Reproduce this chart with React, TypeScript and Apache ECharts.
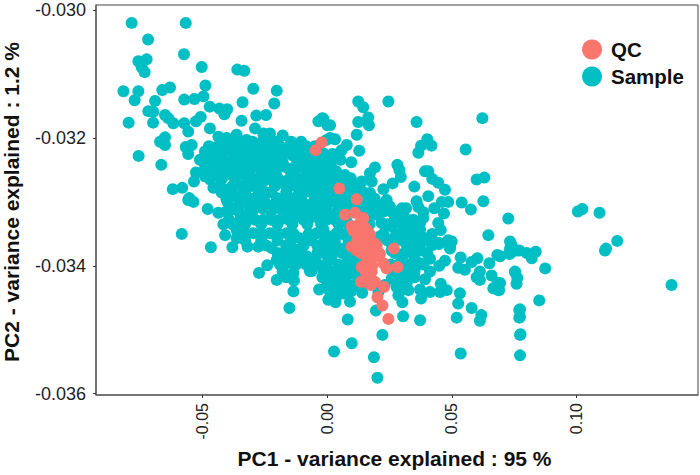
import React, { useEffect, useRef } from "react";
import * as echarts from "echarts";

const seriesNames = ["QC", "Sample"];
const xTicks = [-0.05, 0, 0.05, 0.1];
const yTicks = [-0.03, -0.032, -0.034, -0.036];

const qcPoints: number[][] = [
  [-0.0023,-0.03207],[-0.0047,-0.03219],[0.0048,-0.03279],[0.0118,-0.03296],[0.0071,-0.0332],[0.0111,-0.03317],
  [0.0144,-0.03325],[0.0098,-0.03338],[0.0131,-0.03333],[0.0138,-0.03344],[0.0171,-0.03351],[0.0124,-0.03354],
  [0.0144,-0.03359],[0.0171,-0.03364],[0.0118,-0.03367],[0.0198,-0.03369],[0.0267,-0.03373],[0.0118,-0.03376],
  [0.0158,-0.03368],[0.0191,-0.03373],[0.0211,-0.03381],[0.0164,-0.03383],[0.0171,-0.03394],[0.0138,-0.03402],
  [0.0225,-0.03396],[0.0238,-0.03404],[0.0281,-0.03402],[0.0178,-0.03409],[0.0164,-0.03427],[0.0191,-0.03425],
  [0.0227,-0.03433],[0.0201,-0.03449],[0.0221,-0.03462],[0.0245,-0.03483],
  [0.0098,-0.0337],[0.012,-0.0336],[0.0145,-0.0337],[0.0175,-0.0337],[0.019,-0.03365],[0.0135,-0.0338],
  [0.016,-0.0339],[0.0145,-0.034],[0.0155,-0.0341],[0.018,-0.034],[0.0205,-0.03385],[0.0175,-0.0343],
  [0.0135,-0.03425],[0.0105,-0.03345],[0.0125,-0.0335],[0.015,-0.0334],[0.016,-0.03345],[0.0155,-0.0336],
  [0.0135,-0.0336],
];

const samplePoints: number[][] = [
  [-0.0785,-0.0302],[-0.0568,-0.0302],[-0.0719,-0.03046],[-0.0575,-0.03069],[-0.0758,-0.0308],[-0.0725,-0.03077],
  [-0.0745,-0.03089],[-0.0733,-0.03097],[-0.0504,-0.03089],[-0.0361,-0.03093],[-0.0333,-0.03095],[-0.0818,-0.03127],
  [-0.0758,-0.03127],[-0.0773,-0.03141],[-0.0662,-0.03125],[-0.0631,-0.03121],[-0.0489,-0.03118],[-0.0297,-0.03123],
  [-0.0203,-0.03126],[-0.0691,-0.03142],[-0.0574,-0.0314],[-0.0533,-0.03139],[-0.0497,-0.03135],[-0.034,-0.03144],
  [-0.0213,-0.03146],[-0.0472,-0.03151],[-0.0433,-0.03154],[-0.0402,-0.03155],[-0.0413,-0.03163],[-0.0718,-0.03158],
  [-0.0698,-0.03159],[-0.0797,-0.03176],[-0.0699,-0.03176],[-0.0651,-0.03164],[-0.0638,-0.03169],[-0.0618,-0.03177],
  [-0.0508,-0.03167],[-0.0527,-0.03174],[-0.0574,-0.03177],[-0.0558,-0.0319],[-0.0344,-0.03173],[-0.0285,-0.03165],
  [-0.0246,-0.03164],[-0.0179,-0.03196],[-0.0651,-0.03199],[-0.0671,-0.03206],[-0.0651,-0.03211],[-0.0757,-0.03228],
  [-0.0666,-0.03242],[-0.0568,-0.03214],[-0.0544,-0.03211],[-0.0558,-0.03225],[-0.002,-0.03169],[-0.0036,-0.03174],
  [0,-0.0318],[-0.062,-0.0328],[-0.0582,-0.03278],[-0.0554,-0.03294],[-0.0527,-0.03254],[-0.0535,-0.03268],
  [-0.0491,-0.03221],[-0.0511,-0.03234],[-0.0471,-0.03185],[-0.0437,-0.03198],[-0.0404,-0.032],[-0.0364,-0.03195],
  [-0.0324,-0.03203],[-0.029,-0.03185],[-0.0257,-0.03193],[-0.023,-0.03193],[-0.027,-0.03208],[-0.0163,-0.03216],
  [-0.0123,-0.03221],[-0.0083,-0.03229],[-0.0043,-0.03237],[-0.0444,-0.03214],[-0.039,-0.03219],[-0.0337,-0.03219],
  [-0.0283,-0.03219],[-0.023,-0.03219],[-0.0417,-0.03234],[-0.0364,-0.03234],[-0.031,-0.03239],[-0.0257,-0.03234],
  [-0.0203,-0.03229],[-0.0444,-0.03255],[-0.039,-0.03255],[-0.0337,-0.03255],[-0.023,-0.0325],[-0.015,-0.0325],
  [-0.011,-0.03245],[-0.0056,-0.03255],[-0.0003,-0.03203],[-0.0016,-0.03224],[-0.0491,-0.0326],[-0.0457,-0.03278],
  [-0.0404,-0.03281],[-0.0344,-0.03276],[-0.0257,-0.03268],[-0.0176,-0.03271],[-0.0123,-0.03276],[-0.007,-0.03276],
  [-0.0016,-0.03276],[-0.0364,-0.03292],[-0.0283,-0.03292],[-0.0203,-0.03294],[-0.0123,-0.03292],[-0.0043,-0.03292],
  [-0.0558,-0.03297],[-0.0537,-0.033],[-0.048,-0.03311],[-0.0437,-0.03317],[-0.0417,-0.03335],[-0.0584,-0.0335],
  [-0.041,-0.03352],[-0.0467,-0.03371],[-0.0381,-0.03371],[-0.032,-0.0337],[-0.0277,-0.0337],[-0.0241,-0.03399],
  [-0.0274,-0.03411],[-0.0203,-0.03422],[-0.0134,-0.03423],[-0.0179,-0.03409],[-0.0136,-0.03411],[-0.0136,-0.0344],
  [-0.0152,-0.03466],[-0.0033,-0.03437],[0.0004,-0.03453],[-0.0063,-0.03408],[-0.039,-0.03313],[-0.035,-0.03302],
  [-0.0283,-0.03307],[-0.0217,-0.03305],[-0.015,-0.03305],[-0.0083,-0.03305],[-0.0016,-0.03305],[-0.0324,-0.03323],
  [-0.0257,-0.03328],[-0.019,-0.03328],[-0.0123,-0.03323],[-0.0056,-0.03323],[-0.0003,-0.03328],[-0.0364,-0.03344],
  [-0.0297,-0.03349],[-0.023,-0.03349],[-0.0163,-0.03349],[-0.011,-0.03357],[-0.0043,-0.03349],[0.0011,-0.03354],
  [-0.0364,-0.03357],[-0.0223,-0.03372],[-0.0176,-0.0338],[-0.0123,-0.03375],[-0.0083,-0.03385],[-0.0016,-0.0338],
  [-0.0203,-0.03391],[-0.0163,-0.03396],[-0.0063,-0.03401],[-0.0016,-0.03401],[-0.0003,-0.03422],[0.0011,-0.03437],
  [0.0124,-0.03143],[0.0144,-0.03152],[0.0245,-0.03143],[0.0164,-0.03168],[0.0124,-0.03175],[0.0167,-0.0318],
  [0.0358,-0.03175],[0.0622,-0.03169],[-0.0016,-0.0317],[0.0011,-0.0318],[0.0118,-0.03195],[0.0401,-0.03202],
  [0.0418,-0.03212],[0.0376,-0.03212],[0.0365,-0.03223],[0.0555,-0.03218],[0.0011,-0.032],[0.0031,-0.03202],
  [0.0078,-0.03211],[0.0057,-0.03219],[0.0128,-0.0322],[0.0021,-0.03225],[0.0024,-0.03233],[0.0053,-0.03234],
  [0.0096,-0.03238],[0.0281,-0.03242],[0.0289,-0.0325],[0.0191,-0.03246],[0.0171,-0.03255],[0.0035,-0.03252],
  [0.0392,-0.03252],[0.0405,-0.03252],[0.0295,-0.03261],[0.0421,-0.03264],[0.0445,-0.0327],[0.0599,-0.03265],
  [0.063,-0.03262],[0.0262,-0.03271],[0.0349,-0.03276],[0.0472,-0.03281],[0.0225,-0.0328],[0.0405,-0.03291],
  [0.0094,-0.03263],[0.0138,-0.03268],[0.0178,-0.03268],[0.0098,-0.03278],[0.0171,-0.03286],[0.0539,-0.03301],
  [0.0576,-0.03312],[0.0626,-0.03299],[0.0459,-0.033],[0.0485,-0.033],[0.0358,-0.03299],[0.0365,-0.03308],
  [0.0385,-0.03316],[0.0429,-0.0331],[0.0316,-0.0331],[0.0468,-0.03318],[0.0726,-0.03326],[0.0445,-0.03333],
  [0.0455,-0.03344],[0.0385,-0.03325],[0.0372,-0.03333],[0.0646,-0.03352],[0.0733,-0.03362],[0.0739,-0.03367],
  [0.0448,-0.03364],[0.0485,-0.0336],[0.0499,-0.03362],[0.0492,-0.0337],[0.0372,-0.03343],[0.0378,-0.03354],
  [0.0312,-0.03325],[0.0312,-0.03343],[0.0332,-0.03354],[0.0372,-0.03367],[0.0318,-0.03367],[0.0251,-0.03307],
  [0.0258,-0.03315],[0.0205,-0.03304],[0.0198,-0.0332],[0.0218,-0.03333],[0.0258,-0.03338],[0.0271,-0.03354],
  [0.0211,-0.03354],[0.0291,-0.03333],[0.0158,-0.03291],[0.0131,-0.03281],[0.0051,-0.0326],[0.0011,-0.03265],
  [-0.0016,-0.03263],[-0.0016,-0.03281],[0,-0.03302],[0.0051,-0.03302],[0.0104,-0.03299],[0.0011,-0.03286],
  [0.0024,-0.03323],[-0.0016,-0.03343],[0.0037,-0.03349],[-0.0016,-0.03364],[0.0037,-0.0337],[0.0144,-0.0331],
  [0.0238,-0.03297],[0.0027,-0.03534],[0.0098,-0.03521],[0.0082,-0.03484],[0.0187,-0.03543],[0.0201,-0.03575],
  [0.0221,-0.03508],[0.0195,-0.0347],[0.0304,-0.03479],[0.0372,-0.03485],[0.0535,-0.03537],[0.0519,-0.03481],
  [0.0612,-0.03486],[0.0618,-0.03477],[0.0579,-0.03466],[0.0525,-0.03459],[0.0532,-0.03443],[0.0773,-0.0354],
  [0.0773,-0.03508],[0.0773,-0.0348],[0.0773,-0.03468],[0.0376,-0.03451],[0.0372,-0.03437],[0.0301,-0.03457],
  [0.0325,-0.03438],[0.0285,-0.03446],[0.0412,-0.03441],[0.0455,-0.03428],[0.0452,-0.03441],[0.0479,-0.03438],
  [0.0683,-0.03427],[0.0666,-0.03435],[0.0686,-0.03438],[0.0612,-0.03422],[0.0599,-0.03418],[0.0659,-0.03415],
  [0.0612,-0.03409],[0.0579,-0.03394],[0.0602,-0.03388],[0.065,-0.03396],[0.0682,-0.03383],[0.0552,-0.03406],
  [0.0525,-0.03403],[0.0535,-0.03387],[0.0472,-0.03392],[0.0449,-0.034],[0.0412,-0.03389],[0.0412,-0.03409],
  [0.0392,-0.03421],[0.0372,-0.03396],[0.0338,-0.03402],[0.0305,-0.03417],[0.0733,-0.03381],[0.0759,-0.03376],
  [0.0753,-0.0341],[0.0759,-0.03428],[0.0448,-0.03366],[0.0492,-0.03373],[0.0372,-0.03376],[0.0325,-0.03373],
  [0.0358,-0.03368],[0.0091,-0.03456],[0.0033,-0.03457],[0.0011,-0.03451],[0.0011,-0.03441],[0.0064,-0.03443],
  [0.014,-0.03442],[0.0104,-0.0343],[0.0051,-0.03428],[-0.0003,-0.03422],[0.0091,-0.03412],[0.0037,-0.03412],
  [-0.0016,-0.03409],[0.0078,-0.03396],[0.0004,-0.03391],[0.0024,-0.03373],[-0.0016,-0.03373],[0.0064,-0.03373],
  [0.0278,-0.03433],[0.0318,-0.03428],[0.0258,-0.0342],[0.0291,-0.03396],[0.0318,-0.03412],[0.0258,-0.03376],
  [0.0305,-0.03381],[0.0118,-0.03412],[0.0144,-0.03422],[0.0205,-0.03441],[0.0118,-0.03396],[0.1005,-0.03315],
  [0.1023,-0.03311],[0.1092,-0.03317],[0.1163,-0.03361],[0.1118,-0.03373],[0.1114,-0.03376],[0.1381,-0.0343],
  [0.0729,-0.03381],[0.0733,-0.03373],[0.077,-0.03376],[0.08,-0.0338],[0.0836,-0.03378],[0.082,-0.03388],
  [0.0874,-0.03404],[0.0753,-0.03409],[0.0762,-0.03419],[0.085,-0.03454],[0.077,-0.03469],[0.077,-0.03481],
  [0.0775,-0.03507],[0.0693,-0.03385],[0.0693,-0.03427],[0.0689,-0.03438],
];

const denseCorePoints: number[][] = [
  [-0.042,-0.03206],[-0.038,-0.03206],[-0.0345,-0.03206],[-0.03,-0.03206],[-0.0245,-0.03206],[-0.0205,-0.03206],[-0.0145,-0.03206],[-0.0105,-0.03206],
  [-0.0465,-0.03227],[-0.0425,-0.03227],[-0.0375,-0.03227],[-0.035,-0.03227],[-0.031,-0.03227],[-0.026,-0.03227],[-0.0215,-0.03227],[-0.018,-0.03227],[-0.014,-0.03227],[-0.01,-0.03227],[-0.0065,-0.03227],[-0.0025,-0.03227],
  [-0.049,-0.03245],[-0.0445,-0.03245],[-0.0405,-0.03245],[-0.037,-0.03245],[-0.0325,-0.03245],[-0.0285,-0.03245],[-0.024,-0.03245],[-0.0195,-0.03245],[-0.017,-0.03245],[-0.013,-0.03245],[-0.0085,-0.03245],[-0.004,-0.03245],[-0.001,-0.03245],[0.0015,-0.03245],
  [-0.047,-0.03265],[-0.0425,-0.03265],[-0.037,-0.03265],[-0.032,-0.03265],[-0.029,-0.03265],[-0.0225,-0.03265],[-0.0195,-0.03265],[-0.0155,-0.03265],[-0.01,-0.03265],[-0.0075,-0.03265],[-0.003,-0.03265],[0.003,-0.03265],[0.0075,-0.03265],
  [-0.0425,-0.03285],[-0.0385,-0.03285],[-0.033,-0.03285],[-0.025,-0.03285],[-0.0225,-0.03285],[-0.0165,-0.03285],[-0.0095,-0.03285],[-0.0065,-0.03285],[-0.002,-0.03285],[0.0035,-0.03285],[0.007,-0.03285],[0.011,-0.03285],[0.0145,-0.03285],
  [-0.04,-0.033],[-0.032,-0.033],[-0.025,-0.033],[-0.0185,-0.033],[-0.012,-0.033],[-0.0055,-0.033],[0.0025,-0.033],[0.0075,-0.033],[0.013,-0.033],[0.0175,-0.033],
  [-0.0405,-0.03315],[-0.0355,-0.03315],[-0.03,-0.03315],[-0.0225,-0.03315],[-0.016,-0.03315],[-0.009,-0.03315],[-0.0025,-0.03315],[0.004,-0.03315],[0.008,-0.03315],[0.012,-0.03315],[0.0165,-0.03315],[0.0225,-0.03315],[0.0285,-0.03315],
  [-0.038,-0.03335],[-0.033,-0.03335],[-0.0265,-0.03335],[-0.02,-0.03335],[-0.014,-0.03335],[-0.008,-0.03335],[-0.0025,-0.03335],[0.0045,-0.03335],[0.0085,-0.03335],[0.017,-0.03335],[0.024,-0.03335],[0.0335,-0.03335],
  [-0.033,-0.0336],[-0.0265,-0.0336],[-0.02,-0.0336],[-0.0145,-0.0336],[-0.0065,-0.0336],[0.003,-0.0336],[0.0085,-0.0336],[0.011,-0.0336],[0.0185,-0.0336],[0.024,-0.0336],[0.03,-0.0336],[0.041,-0.0336],
  [-0.02,-0.0338],[-0.0145,-0.0338],[-0.0105,-0.0338],[-0.004,-0.0338],[0.0025,-0.0338],[0.006,-0.0338],[0.01,-0.0338],[0.015,-0.0338],[0.027,-0.0338],[0.034,-0.0338],[0.04,-0.0338],
  [-0.019,-0.03398],[-0.0125,-0.03398],[-0.0085,-0.03398],[-0.0035,-0.03398],[0.0045,-0.03398],[0.0115,-0.03398],[0.0255,-0.03398],[0.032,-0.03398],[0.0385,-0.03398],
  [-0.0165,-0.03418],[-0.002,-0.03418],[0.0065,-0.03418],[0.0125,-0.03418],[0.017,-0.03418],[0.028,-0.03418],[0.035,-0.03418],
  [-0.0475,-0.03213],[-0.043,-0.03213],[-0.036,-0.03213],[-0.031,-0.03213],[-0.026,-0.03213],[-0.019,-0.03213],[-0.0125,-0.03213],[-0.0085,-0.03213],[-0.005,-0.03213],
  [-0.048,-0.03237],[-0.044,-0.03237],[-0.039,-0.03237],[-0.034,-0.03237],[-0.0285,-0.03237],[-0.023,-0.03237],[-0.018,-0.03237],[-0.012,-0.03237],[-0.0075,-0.03237],[-0.003,-0.03237],[0,-0.03237],
  [-0.047,-0.03258],[-0.041,-0.03258],[-0.0355,-0.03258],[-0.031,-0.03258],[-0.0265,-0.03258],[-0.0205,-0.03258],[-0.013,-0.03258],[-0.0085,-0.03258],[-0.002,-0.03258],[0.0005,-0.03258],[0.007,-0.03258],
  [-0.043,-0.03275],[-0.038,-0.03275],[-0.03,-0.03275],[-0.0275,-0.03275],[-0.021,-0.03275],[-0.015,-0.03275],[-0.0095,-0.03275],[-0.0045,-0.03275],[0.001,-0.03275],[0.0065,-0.03275],[0.0105,-0.03275],
  [-0.0405,-0.03295],[-0.034,-0.03295],[-0.03,-0.03295],[-0.026,-0.03295],[-0.0165,-0.03295],[-0.0105,-0.03295],[-0.0025,-0.03295],[0.0025,-0.03295],[0.007,-0.03295],[0.019,-0.03295],
  [-0.037,-0.0331],[-0.031,-0.0331],[-0.026,-0.0331],[-0.019,-0.0331],[-0.0125,-0.0331],[-0.006,-0.0331],[-0.0005,-0.0331],[0.006,-0.0331],[0.01,-0.0331],[0.0185,-0.0331],[0.03,-0.0331],
  [-0.0395,-0.03328],[-0.035,-0.03328],[-0.029,-0.03328],[-0.0225,-0.03328],[-0.0155,-0.03328],[-0.0095,-0.03328],[-0.003,-0.03328],[0.003,-0.03328],[0.0075,-0.03328],[0.016,-0.03328],[0.027,-0.03328],[0.0345,-0.03328],
  [-0.033,-0.0335],[-0.0265,-0.0335],[-0.0195,-0.0335],[-0.0135,-0.0335],[-0.0075,-0.0335],[-0.001,-0.0335],[0.006,-0.0335],[0.01,-0.0335],[0.0225,-0.0335],[0.029,-0.0335],[0.0355,-0.0335],[0.042,-0.0335],
  [-0.0245,-0.03368],[-0.0165,-0.03368],[-0.0095,-0.03368],[-0.004,-0.03368],[0.001,-0.03368],[0.0095,-0.03368],[0.026,-0.03368],[0.0345,-0.03368],[0.042,-0.03368],
  [-0.0155,-0.0339],[-0.011,-0.0339],[-0.005,-0.0339],[0.0015,-0.0339],[0.0085,-0.0339],[0.015,-0.0339],[0.03,-0.0339],[0.035,-0.0339],
  [-0.007,-0.03408],[0.001,-0.03408],[0.006,-0.03408],[0.014,-0.03408],[0.027,-0.03408],[0.035,-0.03408],
  [0,-0.0343],[0.004,-0.0343],[0.012,-0.0343],[0.023,-0.0343],[0.03,-0.0343],
  [0.001,-0.03435],[0.0045,-0.03445],[0.0075,-0.03435],[0.0095,-0.0344],[0.0025,-0.0342],[0.007,-0.0342],[0.0105,-0.034],[-0.0005,-0.034],
];

export default function App() {
  const ref = useRef<HTMLDivElement>(null);
  useEffect(() => {
    document.body.style.margin = "0";
    const chart = echarts.init(ref.current!, null, { renderer: "svg" });
    const font = "'Liberation Sans', Arial, sans-serif";
    chart.setOption({
      animation: false,
      backgroundColor: "#ffffff",
      grid: { left: 96, right: 2, top: 5, bottom: 80, show: true, borderColor: "#444444", borderWidth: 1, backgroundColor: "transparent", outerBoundsMode: "none" },
      legend: {
        data: seriesNames,
        orient: "vertical",
        left: 577,
        top: 34,
        itemWidth: 20,
        itemHeight: 20,
        itemGap: 6,
        icon: "circle",
        textStyle: { fontFamily: font, fontSize: 20.5, fontWeight: "bold", color: "#111111", padding: [0, 0, 0, 4] },
      },
      xAxis: {
        type: "value",
        min: -0.0928,
        max: 0.1487,
        splitLine: { show: false },
        axisLine: { onZero: false, lineStyle: { color: "#666666", width: 1.5 } },
        axisTick: { show: true, length: 3, lineStyle: { color: "#333333" }, customValues: xTicks },
        axisLabel: {
          rotate: 90,
          fontFamily: font,
          fontSize: 16,
          color: "#222222",
          margin: 8,
          customValues: xTicks,
          formatter: (v: number) => v.toFixed(2),
        },
        name: "PC1 - variance explained : 95 %",
        nameLocation: "middle",
        nameGap: 53,
        nameTextStyle: { fontFamily: font, fontSize: 21, fontWeight: "bold", color: "#111111", padding: [0, 5, 0, 0] },
      },
      yAxis: {
        type: "value",
        min: -0.03602,
        max: -0.02992,
        splitLine: { show: false },
        axisLine: { onZero: false, lineStyle: { color: "#666666", width: 1.5 } },
        axisTick: { show: true, length: 3, lineStyle: { color: "#333333" }, customValues: yTicks },
        axisLabel: {
          fontFamily: font,
          fontSize: 18,
          color: "#222222",
          margin: 10,
          customValues: yTicks,
          formatter: (v: number) => v.toFixed(3),
        },
        name: "PC2 - variance explained : 1.2 %",
        nameLocation: "middle",
        nameGap: 74,
        nameTextStyle: { fontFamily: font, fontSize: 21, fontWeight: "bold", color: "#111111", padding: [0, 4, 0, 0] },
      },
      series: [
        { name: "Sample", type: "scatter", data: samplePoints.concat(denseCorePoints), symbol: "circle", symbolSize: 12, itemStyle: { color: "#00BFC4", opacity: 1 }, z: 2 },
        { name: "QC", type: "scatter", data: qcPoints, symbol: "circle", symbolSize: 12, itemStyle: { color: "#F8766D", opacity: 1 }, z: 3 },
      ],
    });
    return () => chart.dispose();
  }, []);
  return <div ref={ref} style={{ width: 700, height: 475 }} />;
}
